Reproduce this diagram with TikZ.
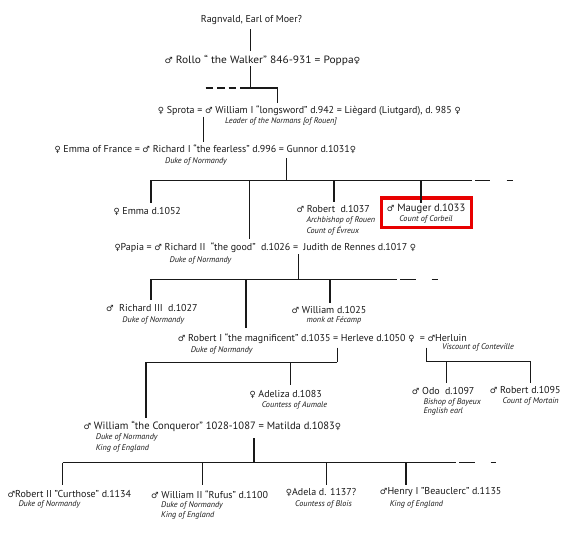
\documentclass[tikz,border=0pt]{standalone}
\usepackage{fontspec}
\setmainfont{PT Sans}
\newfontfamily\symf{DejaVu Sans}
\newcommand\gm{{\symf\fontsize{8.5}{9}\selectfont\char"2642}}
\newcommand\gf{{\symf\fontsize{8.5}{9}\selectfont\char"2640}}
\definecolor{boxred}{RGB}{232,0,0}
\definecolor{ink}{RGB}{25,25,25}
\begin{document}
\begin{tikzpicture}[x=1pt,y=-1pt,
  lbl/.style={font=\fontsize{10}{11}\selectfont, inner sep=0pt, anchor=west, text=ink},
  big/.style={lbl, font=\fontsize{10.6}{12}\selectfont},
  ctr/.style={lbl, anchor=center},
  sub/.style={font=\fontsize{8.2}{9}\selectfont\itshape, inner sep=0pt, anchor=west, text=ink},
  subc/.style={sub, anchor=center},
  ln/.style={line width=1.1pt, draw=ink},
  thk/.style={line width=1.8pt, draw=ink},
  dsh/.style={ln, dash pattern=on 7.5pt off 4pt}]
\useasboundingbox (0,0) rectangle (569,533);

% ---- text nodes ----
\node[ctr] (ragn) at (251.5,20) {Ragnvald, Earl of Moer?};
\node[big] (rollo) at (164.3,60) {\scalebox{1.08}[1]{\gm{} Rollo “ the Walker” 846-931 = Poppa\gf}};
\node[lbl] (sprota) at (157.7,111) {\gf{} Sprota = \gm{} William I “longsword” d.942 = Liègard (Liutgard), d.~985 \gf};
\node[subc] (sprotas) at (281,121.7) {Leader of the Normans [of Rouen]};
\node[lbl] (emmaf) at (54.3,149) {\gf{} Emma of France =\ \gm{} Richard I “the fearless” d.996 = Gunnor d.1031\gf};
\node[subc] (emmafs) at (196,161.3) {Duke of Normandy};
\node[lbl] (emma) at (113.3,211) {\gf{} Emma d.1052};
\node[lbl] (robert) at (296.3,209.3) {\gm{} Robert\ \ d.1037};
\node[sub] (roberts1) at (306.3,220.3) {Archbishop of Rouen};
\node[sub] (roberts2) at (306.3,230.3) {Count of Évreux};
\node[draw=boxred, line width=3.5pt, minimum width=89.8pt, minimum height=29.5pt, inner sep=0pt] (mbox) at (426.35,212.8) {};
\node[big] (mauger) at (386.7,209.3) {\gm{} Mauger d.1033};
\node[subc] (maugers) at (426,219.8) {Count of Corbeil};
\node[lbl] (papia) at (114.3,248) {\gf Papia = \gm{} Richard II\ \ “the good”\ \ d.1026 =\ \ Judith de Rennes d.1017 \gf};
\node[subc] (papias) at (200.5,260.3) {Duke of Normandy};
\node[lbl] (rich3) at (106,308) {\gm\ \ Richard III\ \ d.1027};
\node[subc] (rich3s) at (153.3,320.3) {Duke of Normandy};
\node[lbl] (willm) at (291.3,310.3) {\gm{} William d.1025};
\node[subc] (willms) at (334,320.3) {monk at Fécamp};
\node[lbl] (rob1) at (177.7,339) {\gm{} Robert I “the magnificent” d.1035 = Herleve d.1050 \gf\ \ = \gm Herluin};
\node[subc] (rob1s) at (221.7,350.3) {Duke of Normandy};
\node[subc] (herls) at (478,347.7) {Viscount of Conteville};
\node[lbl] (adel) at (249.3,394) {\gf{} Adeliza d.1083};
\node[subc] (adels) at (294.5,405) {Countess of Aumale};
\node[lbl] (odo) at (411.7,391) {\gm{} Odo\ \ d.1097};
\node[sub] (odos1) at (423.3,402.3) {Bishop of Bayeux};
\node[sub] (odos2) at (423.3,411.7) {English earl};
\node[lbl] (robm) at (489.7,390) {\gm{} Robert d.1095};
\node[subc] (robms) at (530.7,401) {Count of Mortain};
\node[big] (conq) at (83.3,426.7) {\gm{} William “the Conqueror” 1028-1087 = Matilda d.1083\gf};
\node[sub] (conqs1) at (95.7,437.7) {Duke of Normandy};
\node[sub] (conqs2) at (95.7,448.3) {King of England};
\node[lbl] (rob2) at (7.3,494.3) {\gm Robert II "Curthose" d.1134};
\node[sub] (rob2s) at (18.3,504.3) {Duke of Normandy};
\node[lbl] (will2) at (151,494.3) {\gm{} William II “Rufus” d.1100};
\node[sub] (will2s1) at (161,505) {Duke of Normandy};
\node[sub] (will2s2) at (161,515.7) {King of England};
\node[lbl] (adela) at (285.7,492.3) {\gf Adela d. 1137?};
\node[subc] (adelas) at (323.5,504) {Countess of Blois};
\node[lbl] (henry) at (379.7,492.3) {\gm Henry I "Beauclerc" d.1135};
\node[sub] (henrys) at (389.7,504) {King of England};

% ---- junction coordinates ----
\coordinate (r1) at (250.7,29);   \coordinate (r2) at (250.7,51);
\coordinate (w1) at (250.7,66);   \coordinate (w2) at (250.7,88);
\coordinate (wd) at (205.7,88);   \coordinate (ws) at (240,88);
\coordinate (wc) at (277.7,88);   \coordinate (wl) at (277.7,103.3);
\coordinate (s1) at (203.3,116.7); \coordinate (s2) at (203.3,141.7);
\coordinate (g1) at (286.7,158);  \coordinate (g2) at (286.7,180.3);
\coordinate (gL) at (151,180.3);  \coordinate (gR) at (471.7,180.3);
\coordinate (gd1) at (475,180.3); \coordinate (gd2) at (489.7,180.3);
\coordinate (gd3) at (506.7,180.3); \coordinate (gd4) at (513,180.3);
\coordinate (ge) at (151,203);
\coordinate (gr2a) at (249.3,180.3); \coordinate (gr2b) at (249.3,238.7);
\coordinate (gra) at (334,180.3);  \coordinate (grb) at (334,202);
\coordinate (gma) at (421,180.3);  \coordinate (gmb) at (421,203);
\coordinate (p1) at (298.3,254.3); \coordinate (p2) at (298.3,279.5);
\coordinate (pL) at (151,279.5);   \coordinate (pR) at (396.7,279.5);
\coordinate (pd1) at (400,279.5);  \coordinate (pd2) at (415.7,279.5);
\coordinate (pd3) at (431.7,279.5); \coordinate (pd4) at (438,279.5);
\coordinate (p3) at (151,300.3);
\coordinate (pr1a) at (246,279.5); \coordinate (pr1b) at (246,327.7);
\coordinate (pwa) at (330,279.5);  \coordinate (pwb) at (330,303);
\coordinate (h1) at (337.3,347.7); \coordinate (h2) at (337.3,362.3);
\coordinate (hL) at (145.7,362.3); \coordinate (hc) at (145.7,418.3);
\coordinate (ha) at (290.7,362.3); \coordinate (hb) at (290.7,385);
\coordinate (k1) at (426.7,347.7); \coordinate (k2) at (426.7,361.7);
\coordinate (kR) at (530.7,361.7); \coordinate (kRb) at (530.7,383.3);
\coordinate (ko) at (446.7,361.7); \coordinate (kob) at (446.7,383.3);
\coordinate (c1) at (254,438.3);   \coordinate (c2) at (254,462.5);
\coordinate (cL) at (62.7,462.5);  \coordinate (cR) at (455.7,462.5);
\coordinate (cd1) at (459,462.5);  \coordinate (cd2) at (474.7,462.5);
\coordinate (cd3) at (490.7,462.5); \coordinate (cd4) at (496.3,462.5);
\coordinate (cLb) at (62.7,484.5);
\coordinate (cwa) at (202.3,462.5); \coordinate (cwb) at (202.3,484.5);
\coordinate (caa) at (326.3,462.5); \coordinate (cab) at (326.3,484.5);
\coordinate (cha) at (406.3,462.5); \coordinate (chb) at (406.3,484.5);

% ---- connectors ----
\draw[ln] (r1) -- (r2);
\draw[ln] (w1) -- (w2);
\draw[dsh] (wd) -- (ws);
\draw[ln] (ws) -- (wc) -- (wl);
\draw[ln] (s1) -- (s2);
\draw[ln] (g1) -- (g2);
\draw[ln] (gR) -- (gL) -- (ge);
\draw[ln] (gd1) -- (gd2);
\draw[ln] (gd3) -- (gd4);
\draw[ln] (gr2a) -- (gr2b);
\draw[ln] (gra) -- (grb);
\draw[ln] (gma) -- (gmb);
\draw[ln] (p1) -- (p2);
\draw[ln] (pR) -- (pL) -- (p3);
\draw[ln] (pd1) -- (pd2);
\draw[ln] (pd3) -- (pd4);
\draw[thk] (pr1a) -- (pr1b);
\draw[ln] (pwa) -- (pwb);
\draw[ln] (h1) -- (h2);
\draw[ln, line width=1.5pt] (h2) -- (hL);
\draw[thk] (hL) -- (hc);
\draw[ln] (ha) -- (hb);
\draw[ln] (k1) -- (k2) -- (kR) -- (kRb);
\draw[ln] (ko) -- (kob);
\draw[ln] (c1) -- (c2);
\draw[ln, line width=1.5pt] (cL) -- (cR);
\draw[ln] (cL) -- (cLb);
\draw[ln] (cd1) -- (cd2);
\draw[ln] (cd3) -- (cd4);
\draw[ln] (cwa) -- (cwb);
\draw[ln] (caa) -- (cab);
\draw[thk] (cha) -- (chb);
\end{tikzpicture}
\end{document}
